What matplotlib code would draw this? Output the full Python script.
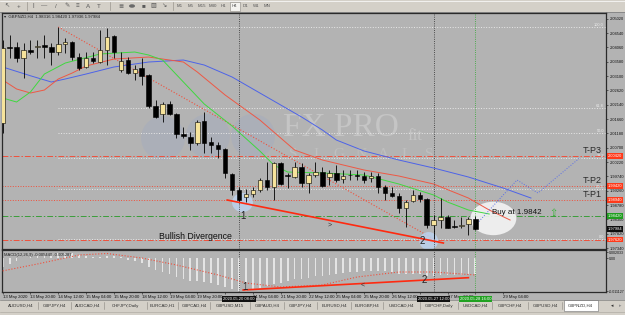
import numpy as np
import matplotlib
matplotlib.use('Agg')
import matplotlib.pyplot as plt
from matplotlib.patches import Ellipse, Rectangle

plt.rcParams['font.family'] = ['Liberation Sans', 'DejaVu Sans']

W, H = 625, 315

# GBPNZD H4 candles, first bar 13 May 2020 04:00
opens = [2.01528, 2.04073, 2.04073, 2.03705, 2.03973, 2.04073, 2.04140, 2.04073, 2.03906, 2.04174,
         2.04241, 2.03738, 2.03403, 2.03705, 2.03571, 2.03973, 2.04442, 2.03303, 2.03638, 2.03202,
         2.03370, 2.03135, 2.02097, 2.01829, 2.02164, 2.01829, 2.01159, 2.01059, 2.00858, 2.01595,
         2.00891, 2.00791, 2.00657, 1.99819, 1.99283, 1.99049, 1.99149, 1.99283, 1.99618, 1.99384,
         2.00188, 1.99786, 1.99719, 2.00054, 1.99518, 1.99786, 1.99886, 1.99719, 1.99853, 1.99652,
         1.99786, 1.99786, 1.99752, 1.99685, 1.99752, 1.99384, 1.99183, 1.99082, 1.98680, 1.98915,
         1.99116, 1.98982, 1.98111, 1.98278, 1.98379, 1.98077, 1.98077, 1.98144, 1.98316]
highs = [2.04308, 2.04476, 2.04241, 2.04208, 2.04308, 2.04308, 2.04476, 2.04208, 2.04744, 2.04375,
         2.04260, 2.03872, 2.03906, 2.03906, 2.04643, 2.04710, 2.04476, 2.03906, 2.03738, 2.03470,
         2.03705, 2.03169, 2.02298, 2.02231, 2.02265, 2.01863, 2.01393, 2.01226, 2.01628, 2.01896,
         2.01059, 2.00891, 2.00690, 1.99840, 1.99384, 1.99317, 1.99384, 1.99685, 2.00221, 2.00221,
         2.00221, 1.99853, 2.00221, 2.00188, 1.99853, 2.00221, 2.00054, 1.99953, 2.00121, 1.99953,
         1.99953, 1.99953, 1.99886, 1.99886, 1.99853, 1.99451, 1.99384, 1.99183, 1.98948, 1.99283,
         1.99216, 1.99015, 1.98446, 1.99015, 1.98446, 1.98278, 1.98379, 1.98379, 1.98420]
lows = [2.01193, 2.03705, 2.03571, 2.03035, 2.03839, 2.03705, 2.03705, 2.03470, 2.03805, 2.03872,
        2.03638, 2.03303, 2.03370, 2.03537, 2.03537, 2.03470, 2.03705, 2.03236, 2.03169, 2.02968,
        2.02800, 2.02030, 2.01695, 2.01561, 2.01795, 2.01025, 2.01025, 2.00623, 2.00791, 2.00523,
        2.00523, 2.00355, 1.99686, 1.99116, 1.98848, 1.98881, 1.99049, 1.99216, 1.99283, 1.98948,
        1.99451, 1.99350, 1.99685, 1.99384, 1.99183, 1.99719, 1.99384, 1.99451, 1.99551, 1.99518,
        1.99618, 1.99618, 1.99518, 1.99551, 1.99183, 1.98948, 1.99049, 1.98513, 1.98044, 1.98881,
        1.98881, 1.98010, 1.97642, 1.98010, 1.98010, 1.98010, 1.98010, 1.97775, 1.97936]
closes = [2.04040, 2.04056, 2.03705, 2.03973, 2.03906, 2.04107, 2.04073, 2.03906, 2.04174, 2.04241,
          2.03738, 2.03370, 2.03705, 2.03604, 2.03973, 2.04409, 2.03906, 2.03604, 2.03202, 2.03336,
          2.03102, 2.02097, 2.01729, 2.02164, 2.01829, 2.01159, 2.01092, 2.00858, 2.01561, 2.00858,
          2.00791, 2.00657, 1.99853, 1.99283, 1.98948, 1.99149, 1.99283, 1.99618, 1.99384, 2.00188,
          1.99484, 1.99769, 2.00054, 1.99518, 1.99786, 1.99886, 1.99417, 1.99853, 1.99618, 1.99752,
          1.99780, 1.99752, 1.99618, 1.99752, 1.99384, 1.99183, 1.99082, 1.98680, 1.98881, 1.99116,
          1.98982, 1.98111, 1.98278, 1.98379, 1.98010, 1.98044, 1.98111, 1.98312, 1.97984]

# moving averages (read at a few bars)
ma_blue_x = [0, 4, 7, 9, 12, 16, 21, 26, 29, 33, 38, 43, 46, 48, 52, 57, 62, 67, 72, 76]
ma_blue_y = [2.03404, 2.03110, 2.02901, 2.03002, 2.03169, 2.03404, 2.03571, 2.03638, 2.03470, 2.03069,
             2.02399, 2.01729, 2.01293, 2.00958, 2.00590, 2.00288, 2.00020, 1.99719, 1.99350, 1.99015]
ma_red_x = [0, 2, 4, 6, 8, 10, 12, 16, 21, 26, 28, 32, 37, 42, 46, 52, 57, 62, 67, 70, 73]
ma_red_y = [2.02968, 2.02667, 2.02533, 2.02633, 2.03002, 2.03202, 2.03437, 2.03671, 2.03738, 2.03571,
            2.03236, 2.02466, 2.01628, 2.00623, 2.00288, 1.99953, 1.99752, 1.99484, 1.99015, 1.98613, 1.98278]
ma_green_x = [0, 2, 4, 6, 9, 14, 19, 21, 23, 26, 29, 33, 37, 39, 41, 46, 52, 57, 62, 64, 67, 70]
ma_green_y = [2.02365, 2.02231, 2.02568, 2.03169, 2.03537, 2.03839, 2.03906, 2.03805, 2.03638, 2.02901,
              2.02164, 2.01427, 2.00590, 2.00121, 1.99886, 1.99853, 1.99786, 1.99484, 1.99116, 1.98881,
              1.98613, 1.98479]

# MACD(12,26,9)
macd_main = [-0.0030, -0.0018, -0.0008, 0.0000, 0.0006, 0.0010, 0.0013, 0.0015, 0.0018, 0.0020,
             0.0018, 0.0012, 0.0008, 0.0005, 0.0006, 0.0010, 0.0010, 0.0004, -0.0004, -0.0010,
             -0.0016, -0.0028, -0.0040, -0.0047, -0.0053, -0.0062, -0.0069, -0.0076, -0.0075, -0.0080,
             -0.0084, -0.0089, -0.0097, -0.0105, -0.0110, -0.0111, -0.0108, -0.0101, -0.0094, -0.0086,
             -0.0082, -0.0077, -0.0071, -0.0069, -0.0065, -0.0060, -0.0059, -0.0055, -0.0053, -0.0050,
             -0.0047, -0.0045, -0.0043, -0.0042, -0.0042, -0.0044, -0.0047, -0.0052, -0.0054, -0.0053,
             -0.0052, -0.0058, -0.0059, -0.0056, -0.0055, -0.0055, -0.0055, -0.0054, -0.0054]
signal_x = [0, 5, 11, 15, 20, 25, 31, 35, 40, 46, 51, 57, 62, 68]
signal_y = [-0.00420, -0.00186, 0.00119, 0.00170, 0.00017, -0.00220, -0.00559, -0.00831, -0.00966,
            -0.00898, -0.00627, -0.00458, -0.00458, -0.00559]

price_ticks = [round(1.97340 + 0.0048 * k, 5) for k in range(17)]
macd_ticks = [0.002033, 0.0, -0.011127]
macd_tick_labels = ['0.002033', '0.00', '-0.011127']

fib_levels = [0.0, 23.6, 38.2, 50.0, 61.8, 100.0]
tp_levels = [2.00420, 1.99420, 1.98940]
tp_names = ['T-P3', 'T-P2', 'T-P1']
buy_level = 1.98420
stop_level = 1.97620

time_idx = list(range(0, 73, 4))
time_labels = ['13 May 2020', '13 May 20:00', '14 May 12:00', '15 May 04:00', '15 May 20:00',
               '18 May 12:00', '19 May 04:00', '19 May 20:00', '20 May 12:00', '21 May 04:00',
               '21 May 20:00', '22 May 12:00', '25 May 04:00', '25 May 20:00', '26 May 12:00',
               '27 May 04:00', '27 May 20:00', '28 May 12:00', '29 May 04:00']
cross_idx = [34, 62, 68]
cross_labels = ['2020.05.20 08:00', '2020.05.27 12:00', '2020.05.28 16:00']
hidden_time = [32, 60, 68]   # labels covered by the crosshair boxes

tabs = ['AUDUSD,H4', 'GBPJPY,H4', 'AUDCAD,H4', 'CHFJPY,Daily', 'EURCAD,H1', 'GBPCAD,H4', 'GBPUSD,M15',
        'GBPAUD,H4', 'GBPJPY,H4', 'EURUSD,H4', 'EURGBP,H4', 'USDCAD,H4', 'GBPCHF,Daily', 'USDCAD,H4',
        'GBPCHF,H4', 'GBPUSD,H4', 'GBPNZD,H4']
tab_edges = [4, 38, 71, 104, 147, 178, 210, 250, 284, 317, 351, 383, 420, 458, 492, 528, 562, 598]
timeframes = ['M1', 'M5', 'M15', 'M30', 'H1', 'H4', 'D1', 'W1', 'MN']

GREY = '#b3b3b3'
PANEL = '#d4d0c8'
RED = '#f0503c'

fig = plt.figure(figsize=(6.25, 3.15), dpi=100)
fig.patch.set_facecolor(PANEL)

# window chrome in pixel coordinates
bg = fig.add_axes([0, 0, 1, 1], zorder=-5)
bg.set_xlim(0, W)
bg.set_ylim(H, 0)
bg.axis('off')
bg.add_patch(Rectangle((0, 12), W, 288, color=GREY, lw=0))
bg.plot([0, W], [12, 12], color='#808080', lw=0.6)
bg.plot([0, W], [0.5, 0.5], color='#ffffff', lw=0.5)
tools = ['↖', '+', '|', '—', '/', '✎', '≡', 'A', 'T', '≣', '■', '▨', '↘']
tool_x = [7, 19, 33, 44, 56, 67, 77, 88, 99, 121, 143, 153, 164]
for gx, g in zip(tool_x, tools):
    bg.text(gx, 6, g, fontsize=4.5, color='#5a5a5a', ha='center', va='center')
bg.add_patch(Ellipse((132, 6), 6, 3.5, fc='#6a6a6a', ec='none'))
for sx in [27, 110, 173]:
    bg.plot([sx, sx], [2, 10], color='#9a968e', lw=0.5)
for k, tf in enumerate(timeframes):
    tx = 180 + k * 10.9
    if tf == 'H4':
        bg.add_patch(Rectangle((tx - 5, 1.5), 10, 9, fc='#f4f3f0', ec='#8a8680', lw=0.4))
    bg.text(tx, 6, tf, fontsize=3.2, color='#555555', ha='center', va='center')
bg.add_patch(Rectangle((0, 300), W, 15, color=PANEL, lw=0))
bg.plot([0, W], [300, 300], color='#808080', lw=0.5)
for k, name in enumerate(tabs):
    a, b = tab_edges[k], tab_edges[k + 1]
    if k == len(tabs) - 1:
        bg.add_patch(Rectangle((a + 2, 300), b - a - 2, 11, fc='white', ec='#707070', lw=0.4))
    else:
        bg.plot([b, b], [302, 309], color='#8a8680', lw=0.4)
    bg.text((a + b) / 2, 305.5, name, fontsize=3.2, color='#303030', ha='center', va='center')
bg.text(612, 305.5, '◂', fontsize=3.5, color='#303030', ha='center', va='center')
bg.text(620, 305.5, '▸', fontsize=3.5, color='#909090', ha='center', va='center')
bg.plot([0, W], [312, 312], color='#a8a49c', lw=0.4)

# price pane
ax = fig.add_axes([2 / W, 1 - 249 / H, 604 / W, 236 / H])
ax.set_facecolor(GREY)
ax.set_xlim(-0.1, 86.8)
ax.set_ylim(1.97307, 2.05213)

# watermark
for cx, cy in [(0.2666, 0.470), (0.341, 0.479), (0.4156, 0.479)]:
    ax.add_patch(Ellipse((cx, cy), 0.0728, 0.186, transform=ax.transAxes,
                         fc='#a6acbd', ec='none', alpha=0.55, zorder=1))
ax.text(0.465, 0.515, 'FX PRO', transform=ax.transAxes, family='Liberation Serif',
        fontsize=24, color='#c5c5c5', ha='left', va='center', zorder=1)
ax.text(0.671, 0.48, 'fit', transform=ax.transAxes, family='Liberation Serif',
        fontsize=12, color='#c5c5c5', ha='left', va='center', zorder=1)
for k, ch in enumerate('SIGNALS'):
    ax.text(0.482 + k * 0.0375, 0.40, ch, transform=ax.transAxes, family='Liberation Serif',
            fontsize=11, color='#bfbfbf', ha='center', va='center', zorder=1)

idx = np.arange(len(opens))
o, hi, lo, c = map(np.array, (opens, highs, lows, closes))

# fibonacci retracement from the bar-8 high to the bar-62 low
fib_top, fib_bot = hi[8], lo[62]
for lev in fib_levels:
    y = fib_bot + (fib_top - fib_bot) * lev / 100
    ax.hlines(y, 8, 86.8, color='#e8e8e8', ls=':', lw=0.7, zorder=2)
    ax.text(86.5, y, f'{lev:.1f}', fontsize=2.8, color='#eeeeee', ha='right', va='bottom', zorder=2)
ax.plot([8, 62], [fib_top, fib_bot], color=RED, ls=':', lw=0.8, zorder=2)

dashdot = (0, (6, 2, 1.5, 2))
for lvl, name, st in zip(tp_levels, tp_names, [dashdot, ':', ':']):
    ax.axhline(lvl, color=RED, ls=st, lw=0.7, zorder=2)
    ax.text(86.2, lvl + 0.0004, name, fontsize=6.5, color='#2a2a2a', ha='right', va='bottom', zorder=6)
ax.axhline(buy_level, color='#3a9e3a', ls=dashdot, lw=0.7, zorder=2)
ax.axhline(stop_level, color=RED, ls=dashdot, lw=0.7, zorder=2)

# annotation shapes
ax.add_patch(Ellipse((34.5, 1.98864), 3.0, 0.0064, fc='#bcd2ee', ec='none', alpha=0.85, zorder=2.5))
ax.add_patch(Ellipse((61.3, 1.97575), 2.7, 0.0060, fc='#bcd2ee', ec='none', alpha=0.85, zorder=2.5))
ax.add_patch(Ellipse((70.6, 1.98330), 6.6, 0.0112, fc='#f4f4f4', ec='none', alpha=0.9, zorder=2.5))

ax.plot(ma_blue_x, ma_blue_y, color='#4d63e8', lw=0.7, zorder=3)
ax.plot(ma_red_x, ma_red_y, color='#ee5844', lw=0.7, zorder=3)
ax.plot(ma_green_x, ma_green_y, color='#3fd83f', lw=0.7, zorder=3)

# candles
up = c >= o
body_lo = np.minimum(o, c)
body_h = np.maximum(np.abs(c - o), 0.00008)
ax.vlines(idx, lo, hi, color='black', lw=0.6, zorder=4)
ax.bar(idx[up], body_h[up], 0.64, bottom=body_lo[up], color='#f6e39b', edgecolor='black', lw=0.4, zorder=5)
ax.bar(idx[~up], body_h[~up], 0.64, bottom=body_lo[~up], color='black', edgecolor='black', lw=0.4, zorder=5)

# divergence line and projection
ax.plot([32.3, 63.4], [1.98948, 1.97508], color='#ff2a10', lw=1.2, zorder=6)
ax.plot([68, 74, 77, 83], [1.98100, 1.99618, 1.99183, 2.00355], color='#5a6ee8', ls=':', lw=0.7, zorder=3)

ax.text(22.5, 1.97742, 'Bullish Divergence', fontsize=6.3, color='#111111', ha='left', va='center', zorder=6)
ax.text(34.6, 1.98412, '1', fontsize=7, color='#222222', ha='center', va='center', zorder=6)
ax.text(60.4, 1.97560, '2', fontsize=7, color='#222222', ha='center', va='center', zorder=6)
ax.text(47.1, 1.98111, '>', fontsize=5, color='#333333', ha='center', va='center', zorder=6)
ax.text(70.4, 1.98513, 'Buy at 1.9842', fontsize=5.8, color='#111111', ha='left', va='center', zorder=6)
ax.text(79.2, 1.98513, '⇧', fontsize=7, color='#34b434', ha='center', va='center', zorder=6)
ax.text(0.0035, 0.987, '▾  GBPNZD,H4  1.98316 1.98420 1.97936 1.97984', transform=ax.transAxes,
        fontsize=3.1, color='#202020', ha='left', va='center', zorder=6)

for xi, col in zip(cross_idx, ['#2a2a2a', '#2a2a2a', '#2ea82e']):
    ax.axvline(xi, color=col, ls=':', lw=0.6, zorder=3)

ax.yaxis.tick_right()
ax.set_yticks(price_ticks)
ax.set_yticklabels([f'{v:.5f}' for v in price_ticks])
ax.tick_params(axis='y', labelsize=2.9, length=1.5, pad=1, width=0.4, colors='#111111')
ax.tick_params(axis='x', bottom=False, labelbottom=False)

# coloured price boxes on the axis
boxes = [(tp_levels[0], '#ff3a1a'), (tp_levels[1], '#ff3a1a'), (tp_levels[2], '#ff3a1a'),
         (buy_level, '#1f9e1f'), (closes[-1], '#0d0d0d'), (stop_level, '#ff3a1a')]
for val, col in boxes:
    ax.text(1.003, val, f'{val:.5f}', transform=ax.get_yaxis_transform(), fontsize=2.9,
            color='white', ha='left', va='center', clip_on=False, zorder=10,
            bbox=dict(boxstyle='square,pad=0.2', fc=col, ec='none'))

for sp in ax.spines.values():
    sp.set_color('#2a2a2a')
    sp.set_linewidth(0.9)

# MACD pane
ax2 = fig.add_axes([2 / W, 1 - 292 / H, 604 / W, 42 / H])
ax2.set_facecolor(GREY)
ax2.set_xlim(-0.1, 86.8)
ax2.set_ylim(-0.01136, 0.00288)
ax2.bar(idx, macd_main, 0.25, color='#e4e4e4', lw=0, zorder=2)
ax2.plot(signal_x, signal_y, color=RED, ls=':', lw=0.8, zorder=3)
ax2.plot([34.6, 67], [-0.01068, -0.00651], color='#ff2a10', lw=1.2, zorder=4)
ax2.text(34.9, -0.0098, '1', fontsize=7, color='#222222', ha='center', va='center', zorder=5)
ax2.text(60.6, -0.0072, '2', fontsize=7, color='#222222', ha='center', va='center', zorder=5)
ax2.text(51.8, -0.0090, '<', fontsize=5, color='#333333', ha='center', va='center', zorder=5)
ax2.text(0.0035, 0.93, 'MACD(12,26,9) -0.005448 -0.005287', transform=ax2.transAxes,
         fontsize=3, color='#202020', ha='left', va='top')
for xi, col in zip(cross_idx, ['#2a2a2a', '#2a2a2a', '#2ea82e']):
    ax2.axvline(xi, color=col, ls=':', lw=0.6, zorder=3)

ax2.yaxis.tick_right()
ax2.set_yticks(macd_ticks)
ax2.set_yticklabels(macd_tick_labels)
ax2.tick_params(axis='y', labelsize=2.6, length=1.2, pad=0.6, width=0.4, colors='#111111')
shown_labels = ['' if t in hidden_time else lab for t, lab in zip(time_idx, time_labels)]
ax2.set_xticks(time_idx)
ax2.set_xticklabels(shown_labels, ha='left')
ax2.tick_params(axis='x', labelsize=3.1, length=1.5, pad=1, width=0.4, colors='#111111')

for xi, lab, col in zip(cross_idx, cross_labels, ['#111111', '#111111', '#21a121']):
    ax2.text(xi, -0.11, lab, transform=ax2.get_xaxis_transform(), fontsize=3, color='white',
             ha='center', va='top', clip_on=False, zorder=10,
             bbox=dict(boxstyle='square,pad=0.25', fc=col, ec='none'))

for sp in ax2.spines.values():
    sp.set_color('#2a2a2a')
    sp.set_linewidth(0.9)

fig.savefig('out.png', dpi=100, facecolor=fig.get_facecolor())
